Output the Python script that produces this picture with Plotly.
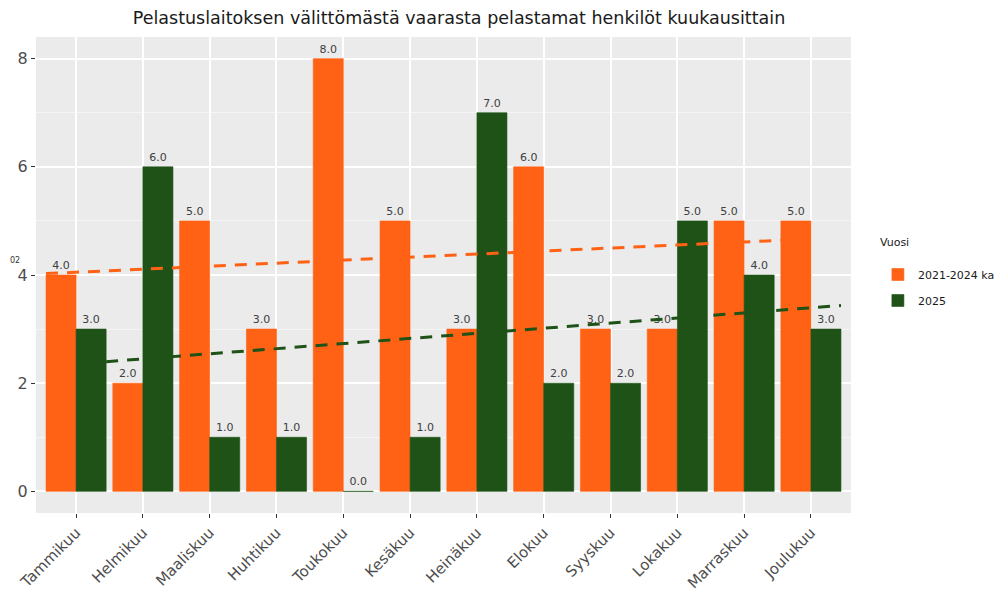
import numpy as np
import plotly.graph_objects as go

months = ["Tammikuu", "Helmikuu", "Maaliskuu", "Huhtikuu", "Toukokuu", "Kesäkuu",
          "Heinäkuu", "Elokuu", "Syyskuu", "Lokakuu", "Marraskuu", "Joulukuu"]
avg_2021_2024 = [4, 2, 5, 3, 8, 5, 3, 6, 3, 3, 5, 5]
y2025 = [3, 6, 1, 1, 0, 1, 7, 2, 2, 5, 4, 3]
series_names = ["2021-2024 ka", "2025"]
y_ticks = [0, 2, 4, 6, 8]

ORANGE = "#FF6215"
GREEN = "#1E5217"
idx = np.arange(len(months))

W, H = 997, 586
L, T, R, B = 28, 29, 154, 81
PW = W - L - R
PH = H - T - B

fig = go.Figure()
for name, vals, col in [(series_names[0], avg_2021_2024, ORANGE), (series_names[1], y2025, GREEN)]:
    fig.add_trace(go.Bar(
        x=idx, y=vals, name=name, legendgroup=name,
        marker=dict(color=col, line=dict(width=0.6, color=col)),
        text=[f"{v:.1f}" for v in vals], textposition="outside",
        textfont=dict(size=11, color="#404040", family="DejaVu Sans"),
        cliponaxis=False,
    ))

# linear trend lines (fitted from the data)
for vals, col, shift in [(avg_2021_2024, ORANGE, -0.45), (y2025, GREEN, 0.45)]:
    k, b = np.polyfit(idx, vals, 1)
    xs = np.array([idx[0], idx[-1]])
    fig.add_trace(go.Scatter(
        x=xs + shift, y=k * xs + b, mode="lines", showlegend=False, hoverinfo="skip",
        line=dict(color=col, width=3, dash="12px,9px"),
    ))

fig.add_annotation(text="02", xref="paper", yref="y", x=-L / PW, y=4.27, xanchor="left",
                   showarrow=False, font=dict(size=8, color="#333", family="DejaVu Sans"))

fig.update_layout(
    width=W, height=H,
    paper_bgcolor="white", plot_bgcolor="#EBEBEB",
    barmode="group", bargap=0.1, bargroupgap=0,
    margin=dict(l=L, r=R, t=T, b=B, autoexpand=False),
    title=dict(text="Pelastuslaitoksen välittömästä vaarasta pelastamat henkilöt kuukausittain",
               x=451 / W, xanchor="center", y=1 - 10 / H, yanchor="middle",
               font=dict(size=17.5, color="#1a1a1a", family="DejaVu Sans")),
    font=dict(family="DejaVu Sans"),
    legend=dict(title=dict(text="Vuosi<br> ", font=dict(size=11, color="#1a1a1a")),
                x=1.033, xanchor="left", y=0.6 - 4 / PH, yanchor="top",
                font=dict(size=11, color="#1a1a1a"), tracegroupgap=7,
                bgcolor="rgba(0,0,0,0)"),
    showlegend=True,
)
fig.update_xaxes(range=[-0.6, 11.6], tickmode="array", tickvals=idx, ticktext=months,
                 tickangle=-45, ticks="outside", ticklen=4, tickcolor="#333", automargin=False,
                 showgrid=True, gridcolor="white", gridwidth=1.5, zeroline=False,
                 tickfont=dict(size=15, color="#4d4d4d"))
fig.update_yaxes(range=[-0.4, 8.4], tickmode="array", tickvals=y_ticks, automargin=False,
                 ticks="outside", ticklen=4, tickcolor="#333",
                 showgrid=True, gridcolor="white", gridwidth=1.5, zeroline=False,
                 minor=dict(dtick=1, showgrid=True, gridcolor="#F5F5F5", gridwidth=0.7, ticks=""),
                 tickfont=dict(size=16, color="#4d4d4d"))

fig.write_html("out.html")
